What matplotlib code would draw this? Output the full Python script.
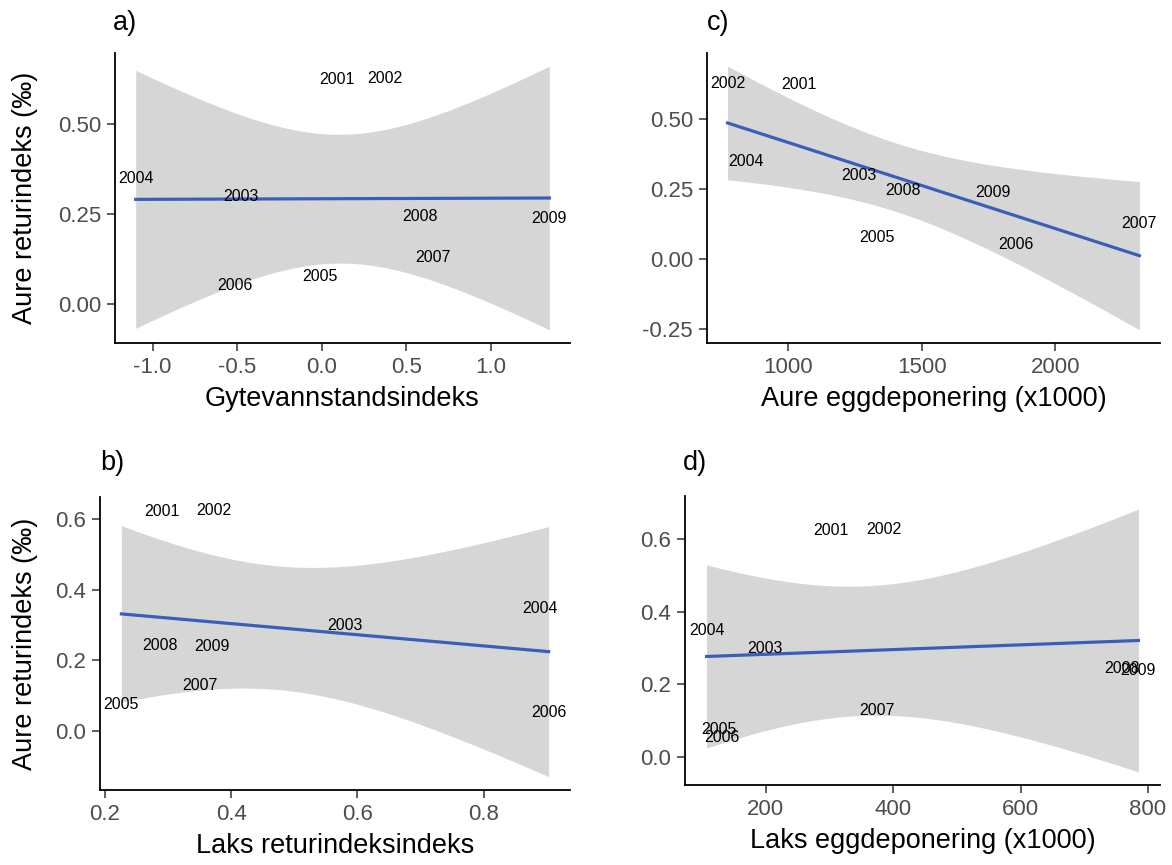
import numpy as np
import matplotlib
matplotlib.use('Agg')
import matplotlib.pyplot as plt

plt.rcParams['font.family'] = ['Liberation Sans', 'DejaVu Sans']

# Data: one label per year, same response in every panel
years = ['2001', '2002', '2003', '2004', '2005', '2006', '2007', '2008', '2009']
aure_retur = [0.623, 0.626, 0.298, 0.348, 0.075, 0.052, 0.128, 0.243, 0.238]
gytevann = [0.09, 0.375, -0.48, -1.10, -0.01, -0.515, 0.66, 0.58, 1.345]
laks_retur = [0.291, 0.372, 0.581, 0.890, 0.226, 0.903, 0.350, 0.288, 0.369]
aure_egg = [1040, 774, 1266, 843, 1331, 1854, 2315, 1432, 1767]
laks_egg = [302, 386, 198, 107, 126, 131, 375, 759, 785]

ticks_a_x = [-1.0, -0.5, 0.0, 0.5, 1.0]
ticks_a_y = [0.00, 0.25, 0.50]
ticks_b_x = [0.2, 0.4, 0.6, 0.8]
ticks_b_y = [0.0, 0.2, 0.4, 0.6]
ticks_c_x = [1000, 1500, 2000]
ticks_c_y = [-0.25, 0.00, 0.25, 0.50]
ticks_d_x = [200, 400, 600, 800]
ticks_d_y = [0.0, 0.2, 0.4, 0.6]

T_975_DF7 = 2.364624  # t-quantil, 95 % KI, n-2 = 7

W, H = 1172, 865


def lm_band(x, y, n=80):
    """Lineær regresjon med 95 % konfidensbånd (som geom_smooth(method='lm'))."""
    x = np.asarray(x, float)
    y = np.asarray(y, float)
    xbar, ybar = x.mean(), y.mean()
    sxx = ((x - xbar) ** 2).sum()
    b1 = ((x - xbar) * (y - ybar)).sum() / sxx
    b0 = ybar - b1 * xbar
    resid = y - (b0 + b1 * x)
    s = np.sqrt((resid ** 2).sum() / (len(x) - 2))
    xs = np.linspace(x.min(), x.max(), n)
    fit = b0 + b1 * xs
    se = s * np.sqrt(1 / len(x) + (xs - xbar) ** 2 / sxx)
    return xs, fit, fit - T_975_DF7 * se, fit + T_975_DF7 * se


def panel(rect, x, y, xticks, yticks, xlabel, tag, tag_pos, ylabel=None,
          xfmt='{:.1f}', yfmt='{:.2f}'):
    l, r, t, b = rect
    ax = fig.add_axes([l / W, 1 - b / H, (r - l) / W, (b - t) / H])
    xs, fit, lo, hi = lm_band(x, y)
    ax.fill_between(xs, lo, hi, color='#D6D6D6', lw=0, zorder=1)
    ax.plot(xs, fit, color='#3B5EBB', lw=2.3, zorder=2)
    for xi, yi, lab in zip(x, y, years):
        ax.text(xi, yi, lab, fontsize=11.5, ha='center', va='center',
                color='black', zorder=3)

    # ggplot-aktig 5 % utvidelse
    xmin, xmax = min(x), max(x)
    ymin = min(min(y), lo.min())
    ymax = max(max(y), hi.max())
    dx = (xmax - xmin) * 0.05
    dy = (ymax - ymin) * 0.05
    ax.set_xlim(xmin - dx, xmax + dx)
    ax.set_ylim(ymin - dy, ymax + dy)

    ax.set_xticks(xticks)
    ax.set_xticklabels([xfmt.format(v) for v in xticks])
    ax.set_yticks(yticks)
    ax.set_yticklabels([yfmt.format(v) for v in yticks])
    for side in ['top', 'right']:
        ax.spines[side].set_visible(False)
    for side in ['left', 'bottom']:
        ax.spines[side].set_linewidth(1.3)
        ax.spines[side].set_color('black')
    ax.tick_params(axis='both', labelsize=16, labelcolor='#4D4D4D',
                   color='#333333', length=6, width=1.1, pad=4)
    ax.set_xlabel(xlabel, fontsize=19.5, labelpad=6)
    fig.text(tag_pos[0] / W, 1 - tag_pos[1] / H, tag, fontsize=19.5,
             ha='left', va='center')
    if ylabel:
        fig.text(25 / W, 1 - (t + b) / 2 / H, ylabel, fontsize=19.5,
                 rotation=90, ha='center', va='center')
    return ax


fig = plt.figure(figsize=(W / 100, H / 100), dpi=100)

ylab = 'Aure returindeks (‰)'
panel((115, 570, 53, 343), gytevann, aure_retur, ticks_a_x, ticks_a_y,
      'Gytevannstandsindeks', 'a)', (113, 23), ylabel=ylab)
panel((707, 1160, 53, 343), aure_egg, aure_retur, ticks_c_x, ticks_c_y,
      'Aure eggdeponering (x1000)', 'c)', (707, 23), xfmt='{:.0f}')
panel((100, 570, 497, 790), laks_retur, aure_retur, ticks_b_x, ticks_b_y,
      'Laks returindeksindeks', 'b)', (100, 463), ylabel=ylab, yfmt='{:.1f}')
panel((685, 1160, 496, 785), laks_egg, aure_retur, ticks_d_x, ticks_d_y,
      'Laks eggdeponering (x1000)', 'd)', (683, 463), xfmt='{:.0f}',
      yfmt='{:.1f}')

fig.savefig('out.png', dpi=100)
